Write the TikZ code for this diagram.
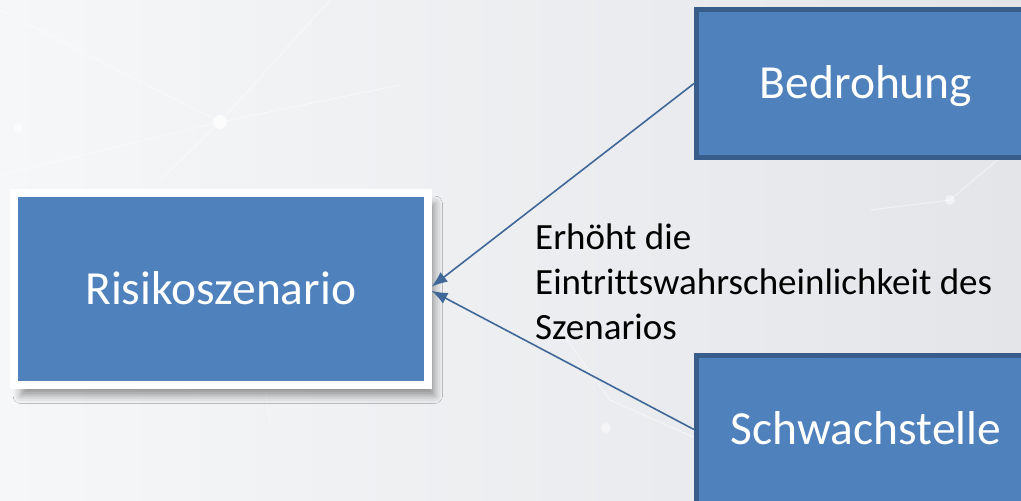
\documentclass[tikz,border=0pt]{standalone}
\usepackage{fontspec}
\setmainfont[Ligatures=NoCommon]{Carlito}
\usetikzlibrary{arrows.meta,positioning,shadows.blur}
\definecolor{boxblue}{HTML}{4F81BD}
\definecolor{boxedge}{HTML}{385D8A}
\definecolor{linkblue}{HTML}{3F6898}
\definecolor{bgleft}{HTML}{F6F7F8}
\definecolor{bgright}{HTML}{E3E5E9}

\tikzset{
  boxtext/.style={text=white,font=\fontsize{47.5}{56}\selectfont,
    text height=40pt,text depth=9.5pt},
  cause/.style={rectangle,draw=boxedge,line width=5pt,fill=boxblue,boxtext,
    minimum width=339pt,minimum height=148pt},
  scenario/.style={rectangle,draw=white,line width=8pt,fill=boxblue,boxtext,
    minimum width=413.5pt,minimum height=191.5pt,
    blur shadow={shadow xshift=7pt,shadow yshift=-11pt,shadow blur radius=8pt,shadow opacity=40}},
  linkarrow/.style={draw=linkblue,line width=1.6pt,-{Latex[length=16pt,width=12pt]}},
  net/.style={white,line width=1pt,opacity=0.45}
}

\begin{document}
\begin{tikzpicture}[x=1pt,y=-1pt]
  \clip (0,0) rectangle (1021,501);
  \shade[left color=bgleft,right color=bgright] (0,0) rectangle (1021,501);
  % faint network in the background
  \draw[net] (0,10) -- (220,122) -- (330,0);
  \draw[net] (220,122) -- (400,85);
  \draw[net] (0,175) -- (220,122) -- (160,180);
  \draw[net] (240,230) -- (270,420);
  \draw[net] (560,330) -- (610,400) -- (700,440);
  \draw[net] (870,210) -- (950,200) -- (1021,140);
  \fill[white,opacity=0.7] (220,122) circle (7);
  \fill[white,opacity=0.5] (18,128) circle (5);
  \fill[white,opacity=0.5] (606,428) circle (5);
  \fill[white,opacity=0.5] (950,200) circle (5);

  \node[scenario] (risk) at (220.75,288.75) {Risikoszenario};
  \node[cause]    (bedr) at (866,83.5)      {Bedrohung};
  \node[cause]    (schw) [below=193pt of bedr] {Schwachstelle};

  \node[anchor=north west,inner sep=0,align=left,
        font=\fontsize{37}{45}\selectfont] (lbl) at (535,223.5)
        {Erhöht die\\Eintrittswahrscheinlichkeit des\\Szenarios};

  \path (bedr.west) edge[linkarrow] ([yshift=2pt]risk.east)
        (schw.west) edge[linkarrow] ([yshift=-2pt]risk.east);
\end{tikzpicture}
\end{document}
